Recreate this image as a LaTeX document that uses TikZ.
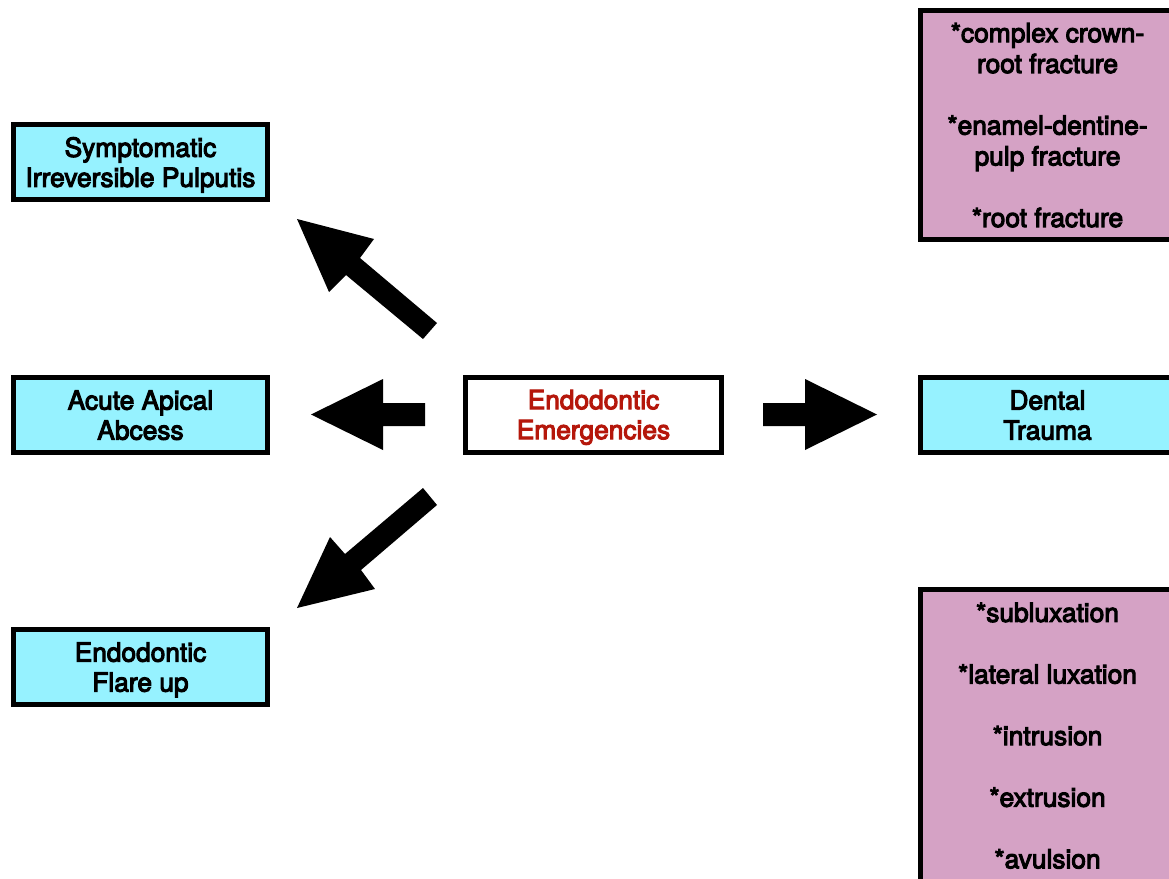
\documentclass[tikz,border=0pt]{standalone}
\usepackage{fontspec}
\setmainfont{TeX Gyre Heros}[FakeBold=4]
\definecolor{boxcyan}{HTML}{96F2FF}
\definecolor{boxpink}{HTML}{D5A2C5}
\definecolor{txtred}{HTML}{B5170B}
\tikzset{
  box/.style={draw=black, line width=5pt, minimum width=254pt, minimum height=75pt,
    inner sep=0pt, text depth=0pt, align=center, font=\fontsize{26.3}{30}\selectfont},
  cyanbox/.style={box, fill=boxcyan},
  pinkbox/.style={box, fill=boxpink, font=\fontsize{26.3}{30.8}\selectfont},
  blockarrow/.style={fill=black, draw=none}
}
\begin{document}
\begin{tikzpicture}[x=1pt,y=-1pt]
\useasboundingbox (0,0) rectangle (1169,878);
\clip (0,0) rectangle (1169,878);
\node[cyanbox] (sip) at (140.5,162) {Symptomatic\\Irreversible Pulputis};
\node[cyanbox] (aaa) at (140.5,415) {Acute Apical\\Abcess};
\node[cyanbox] (efu) at (140.5,667) {Endodontic\\Flare up};
\node[box, fill=white, minimum width=256pt, text=txtred] (ee) at (593.5,414.5) {Endodontic\\Emergencies};
\node[cyanbox] (dt) at (1047.5,415) {Dental\\Trauma};
\node[pinkbox, minimum height=229pt] (frac) at (1047.5,125) {*complex crown-\\root fracture\\[30.8pt]*enamel-dentine-\\pulp fracture\\[30.8pt]*root fracture};
\node[pinkbox, minimum height=292pt] (lux) at (1047.5,735.5) {*subluxation\\[30.8pt]*lateral luxation\\[30.8pt]*intrusion\\[30.8pt]*extrusion\\[30.8pt]*avulsion};
% block arrows
\fill[blockarrow] (763,403) -- (805,403) -- (805,379) -- (877,414.5) -- (805,450) -- (805,426) -- (763,426) -- cycle;
\fill[blockarrow] (425,403) -- (383,403) -- (383,379) -- (311,414.5) -- (383,450) -- (383,426) -- (425,426) -- cycle;
\fill[blockarrow] (437,323) -- (360,258) -- (374,239) -- (297,219) -- (329,292) -- (346,275) -- (423,339) -- cycle;
\fill[blockarrow] (423,488) -- (345,554) -- (330,537) -- (297,608) -- (375,589) -- (361,570) -- (437,505) -- cycle;
\end{tikzpicture}
\end{document}
